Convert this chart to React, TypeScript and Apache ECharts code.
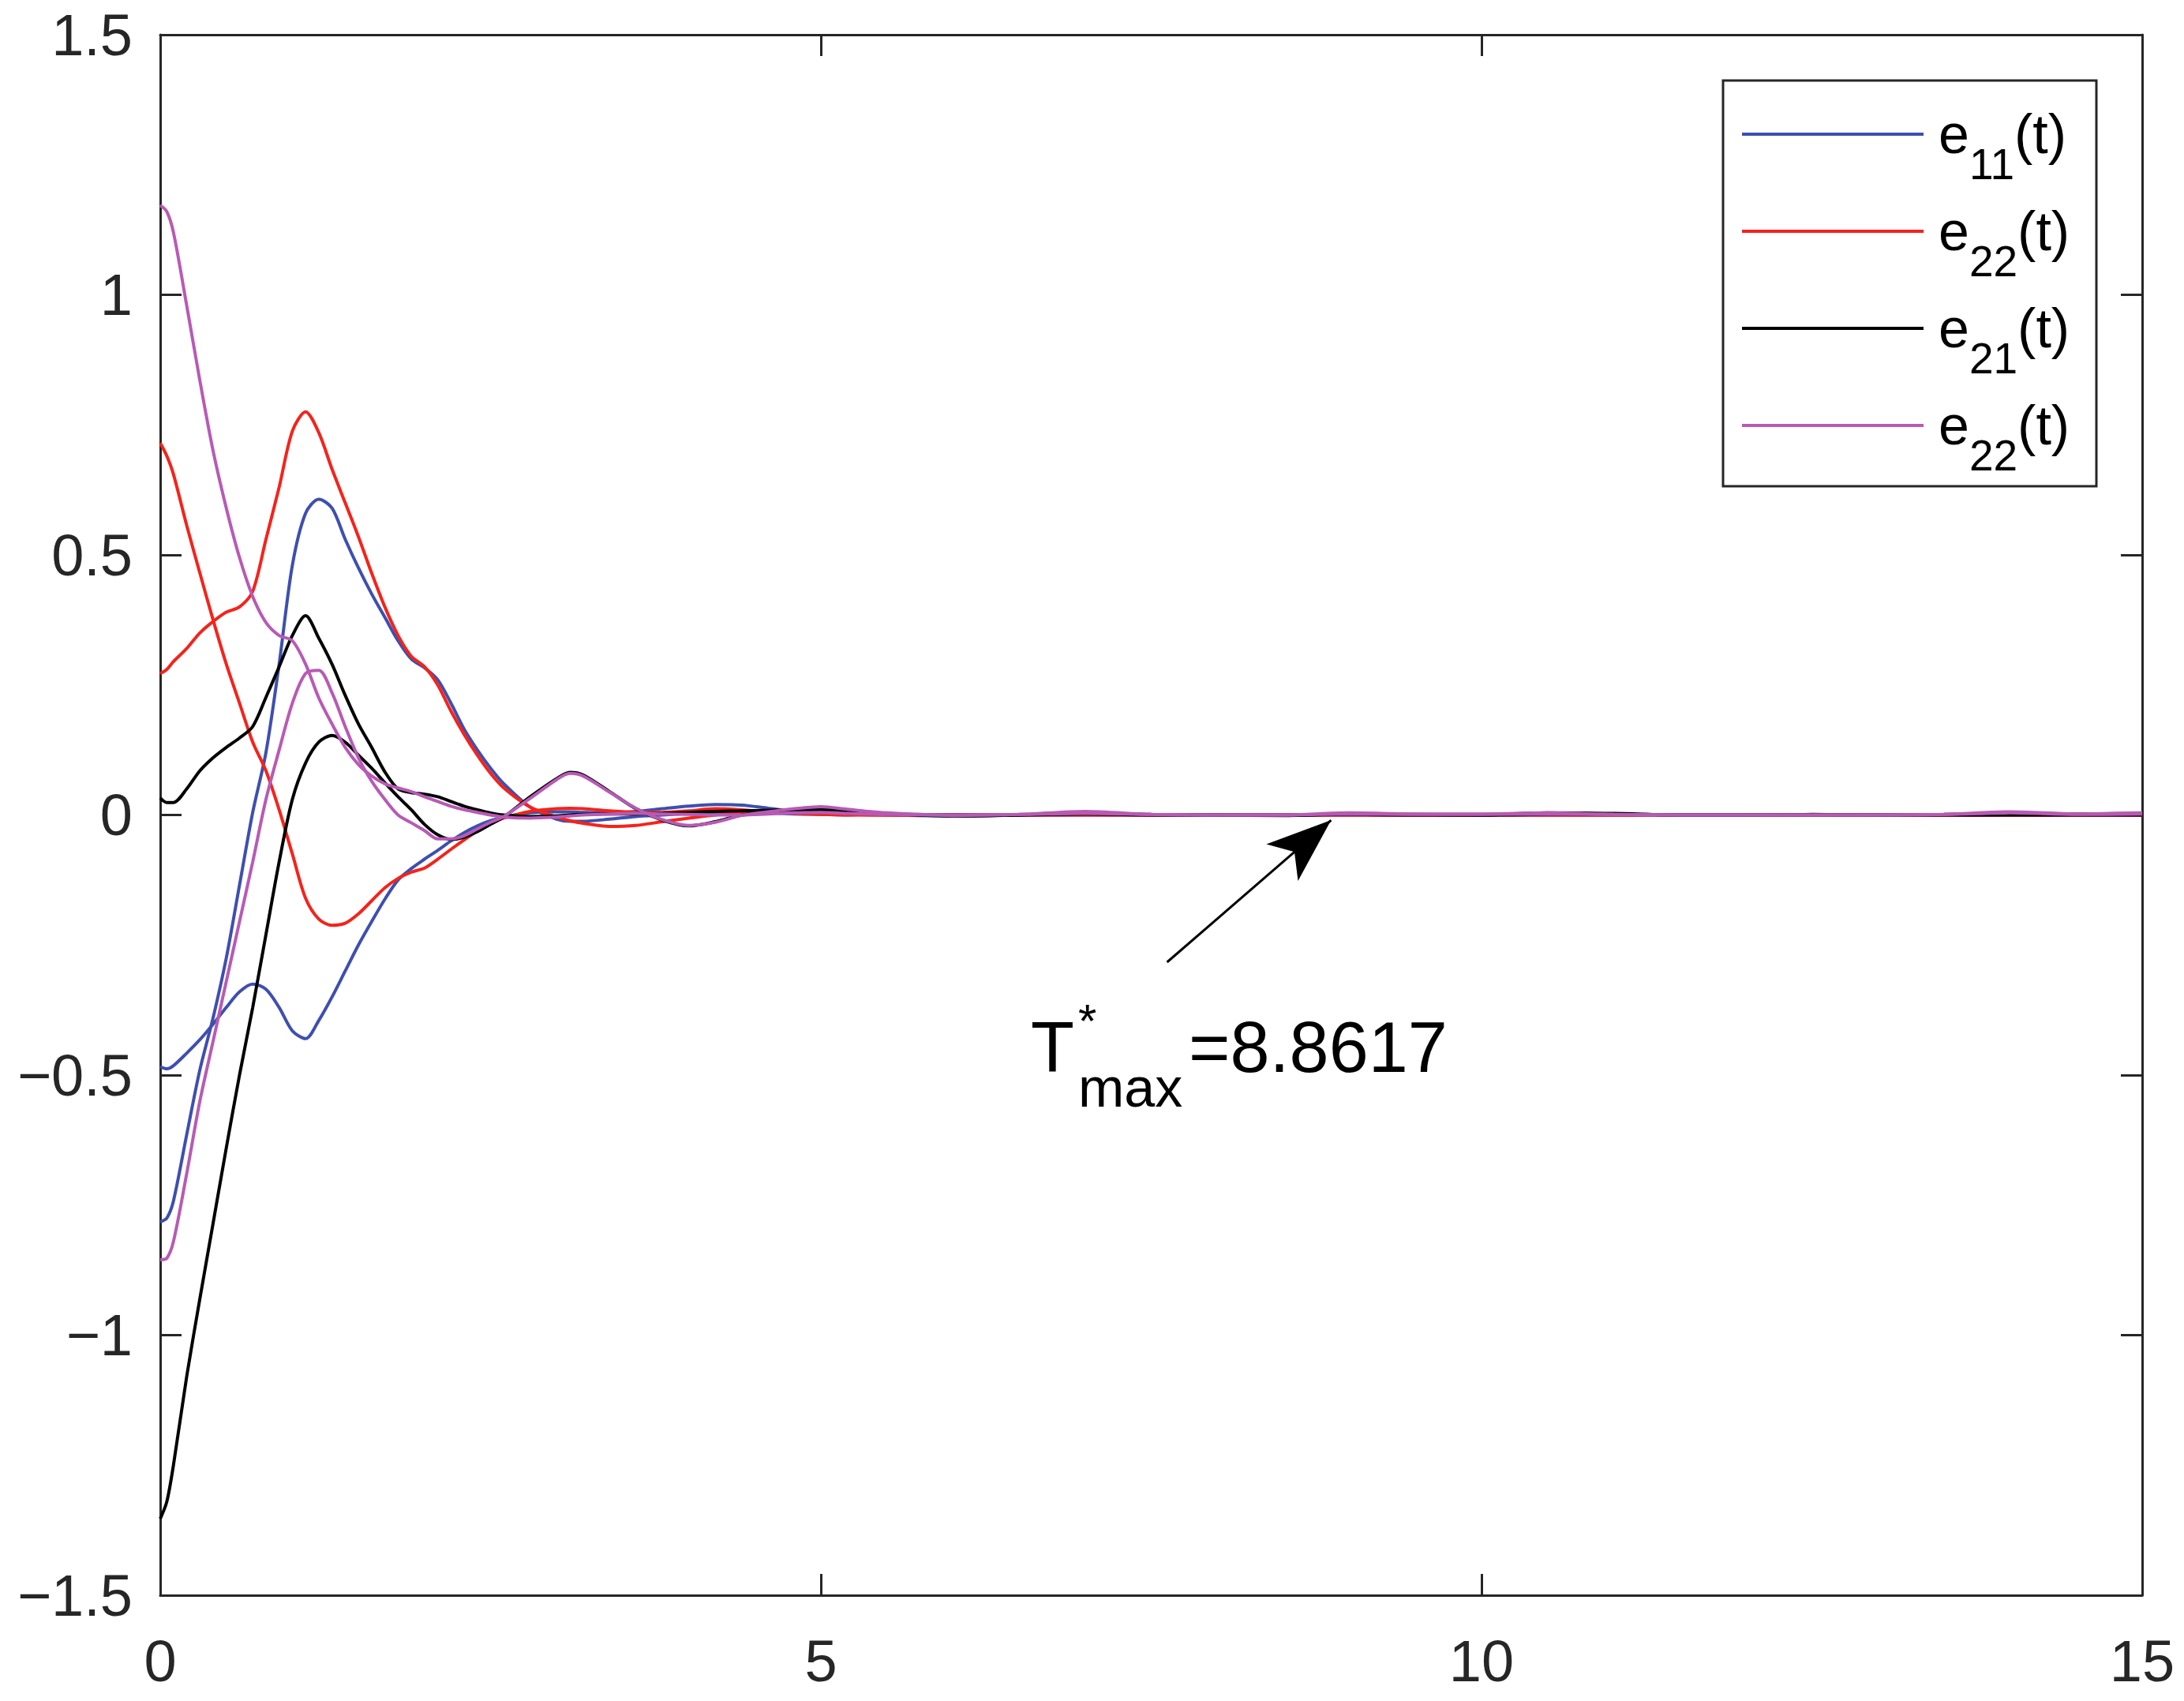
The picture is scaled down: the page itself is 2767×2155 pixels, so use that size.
import * as echarts from "echarts";
import { useEffect, useRef } from "react";

// sampling times (s)
const TIME = [
  0, 0.05, 0.1, 0.2, 0.3, 0.4, 0.5, 0.6, 0.7, 0.8, 0.9,
  1.0, 1.1, 1.2, 1.3, 1.4, 1.5, 1.6, 1.7, 1.8, 1.9,
  2.0, 2.1, 2.2, 2.3, 2.4, 2.5, 2.6, 2.8, 3.0, 3.1,
  3.2, 3.4, 3.6, 3.8, 4.0, 4.2, 4.4, 4.6, 4.8, 5.0,
  5.2, 5.5, 6, 6.5, 7, 7.5, 8, 8.5, 9, 9.5,
  10, 10.5, 11, 11.5, 12, 12.5, 13, 13.5, 14, 14.5, 15,
];

// blue, e11
const E11_A = [
  -0.484, -0.488, -0.482, -0.458, -0.432, -0.402, -0.37, -0.34, -0.325, -0.335, -0.37,
  -0.415, -0.43, -0.395, -0.35, -0.3, -0.25, -0.205, -0.162, -0.125, -0.103,
  -0.085, -0.068, -0.05, -0.034, -0.021, -0.011, -0.004, 0.004, 0.006, 0.006,
  0.005, 0.004, 0.007, 0.012, 0.017, 0.02, 0.019, 0.013, 0.007, 0.003,
  0.001, 0, -0.002, 0, 0.002, 0, 0, 0, 0.001, 0,
  0, 0.001, 0, 0, 0, 0, 0, 0, 0.001, 0, 0,
];
const E11_B = [
  -0.782, -0.775, -0.742, -0.615, -0.49, -0.39, -0.275, -0.135, 0.005, 0.12, 0.29,
  0.48, 0.58, 0.607, 0.59, 0.53, 0.475, 0.425, 0.38, 0.335, 0.3,
  0.283, 0.26, 0.215, 0.165, 0.125, 0.09, 0.06, 0.015, -0.008, -0.012,
  -0.012, -0.008, -0.003, 0, 0.003, 0.005, 0.005, 0.004, 0.002, 0.001,
  0, 0.002, 0, 0, 0, 0, 0, 0, 0, 0,
  0, 0, 0, 0, 0, 0, 0, 0, 0, 0, 0,
];

// red, e22
const E22_A = [
  0.272, 0.28, 0.295, 0.32, 0.35, 0.372, 0.39, 0.4, 0.43, 0.53, 0.63,
  0.738, 0.775, 0.735, 0.665, 0.6, 0.535, 0.465, 0.4, 0.345, 0.305,
  0.285, 0.25, 0.2, 0.155, 0.115, 0.08, 0.052, 0.015, -0.004, -0.011,
  -0.016, -0.022, -0.02, -0.013, -0.006, 0, 0.004, 0.006, 0.005, 0.003,
  0.001, 0, 0, 0, 0.001, 0, 0, 0, 0, 0,
  0, 0, 0, 0, 0, 0, 0, 0, 0, 0, 0,
];
const E22_B = [
  0.715, 0.69, 0.655, 0.557, 0.465, 0.375, 0.29, 0.215, 0.14, 0.085, 0.01,
  -0.075, -0.16, -0.2, -0.212, -0.208, -0.19, -0.165, -0.14, -0.122, -0.11,
  -0.102, -0.085, -0.066, -0.048, -0.031, -0.016, -0.006, 0.007, 0.012, 0.013,
  0.012, 0.008, 0.005, 0.005, 0.008, 0.012, 0.01, 0.006, 0.003, 0.001,
  0, 0, 0, 0, 0, 0, 0, 0, 0, 0,
  0, 0, 0, 0, 0, 0, 0, 0, 0, 0, 0,
];

// black, e21
const E21_A = [
  0.033, 0.024, 0.024, 0.05, 0.085, 0.11, 0.13, 0.148, 0.17, 0.226, 0.285,
  0.345, 0.383, 0.34, 0.29, 0.23, 0.175, 0.13, 0.083, 0.05, 0.043,
  0.04, 0.035, 0.026, 0.017, 0.01, 0.004, 0, -0.003, -0.002, 0,
  0.001, 0.002, 0.002, 0.003, 0.005, 0.007, 0.008, 0.009, 0.01, 0.009,
  0.006, 0.002, 0, 0, 0.002, 0, 0, 0, 0.001, 0,
  0, 0.001, 0.002, 0, 0, 0, 0, 0, 0, 0, 0,
];
const E21_B = [
  -1.353, -1.32, -1.25, -1.08, -0.93, -0.785, -0.64, -0.5, -0.37, -0.23, -0.09,
  0.03, 0.1, 0.14, 0.153, 0.14, 0.115, 0.09, 0.062, 0.035, 0.01,
  -0.018, -0.038, -0.047, -0.043, -0.032, -0.018, -0.004, 0.035, 0.07, 0.082,
  0.077, 0.045, 0.012, -0.01, -0.021, -0.013, 0, 0.006, 0.011, 0.014,
  0.01, 0.003, -0.002, 0, 0.004, 0.001, 0, -0.001, 0.002, 0.001,
  0, 0.004, 0.003, 0, 0, 0.001, 0, 0.001, 0.004, 0.002, 0.003,
];

// magenta, e22
const E22_C = [
  1.172, 1.16, 1.12, 0.98, 0.835, 0.7, 0.59, 0.495, 0.42, 0.37, 0.345,
  0.335, 0.29, 0.225, 0.175, 0.13, 0.097, 0.075, 0.06, 0.052, 0.045,
  0.035, 0.026, 0.017, 0.01, 0.005, 0, -0.004, -0.006, -0.004, -0.002,
  0, 0.002, 0.003, 0.002, 0.001, 0, 0, 0.002, 0.004, 0.005,
  0.003, 0.001, 0, 0.001, 0.003, 0.001, 0, 0, 0.002, 0.001,
  0.001, 0.002, 0.001, 0, 0, 0, 0, 0.001, 0.004, 0.001, 0.002,
];
const E22_D = [
  -0.855, -0.852, -0.82, -0.69, -0.55, -0.435, -0.32, -0.205, -0.09, 0.03, 0.125,
  0.215, 0.272, 0.278, 0.235, 0.17, 0.11, 0.065, 0.03, 0, -0.015,
  -0.03, -0.046, -0.046, -0.04, -0.027, -0.014, -0.003, 0.032, 0.068, 0.08,
  0.075, 0.044, 0.013, -0.009, -0.02, -0.014, -0.001, 0.006, 0.012, 0.016,
  0.011, 0.004, -0.001, 0.001, 0.007, 0.001, 0, 0, 0.004, 0.002,
  0.002, 0.004, 0.001, 0, 0, 0, 0, 0.001, 0.006, 0.002, 0.004,
];

const LEGEND_KEYS = ["e11", "e22r", "e21", "e22m"];
const LEGEND_SUBS: Record<string, string> = { e11: "11", e22r: "22", e21: "21", e22m: "22" };

const T_MAX = 8.8617;
const ARROW_TAIL = [7.62, -0.283];
const ARROW_TIP = [T_MAX, -0.01];

const BLUE = "#3e4fb0";
const RED = "#f5231b";
const BLACK = "#000000";
const MAGENTA = "#b85ab5";
const AXIS = "#262626";
const FONT = '"Liberation Sans", Arial, Helvetica, sans-serif';

const CURVES = [
  { name: "e11", color: BLUE, values: E11_A },
  { name: "e11", color: BLUE, values: E11_B },
  { name: "e22r", color: RED, values: E22_A },
  { name: "e22r", color: RED, values: E22_B },
  { name: "e21", color: BLACK, values: E21_A },
  { name: "e21", color: BLACK, values: E21_B },
  { name: "e22m", color: MAGENTA, values: E22_C },
  { name: "e22m", color: MAGENTA, values: E22_D },
];

const minus = (v: number) => (v < 0 ? "\u2212" + Math.abs(v) : String(v));

const axisCommon = {
  type: "value" as const,
  axisLine: { show: true, onZero: false, lineStyle: { color: AXIS, width: 3 } },
  axisTick: { show: true, inside: true, length: 27, lineStyle: { color: AXIS, width: 3 } },
  splitLine: { show: false },
};

export default function App() {
  const ref = useRef<HTMLDivElement>(null);

  useEffect(() => {
    document.body.style.margin = "0";
    const chart = echarts.init(ref.current!, null, { renderer: "svg" });
    const series: any[] = CURVES.map((c) => ({
      name: c.name,
      type: "line",
      data: TIME.map((t, i) => [t, c.values[i]]),
      color: c.color,
      showSymbol: false,
      symbol: "none",
      smooth: 0.3,
      lineStyle: { color: c.color, width: 4 },
      emphasis: { disabled: true },
    }));
    series[5].markLine = {
      silent: true,
      animation: false,
      label: { show: false },
      lineStyle: { color: "#000", width: 3, type: "solid" },
      emphasis: { disabled: true },
      data: [
        [
          { coord: ARROW_TAIL, symbol: "none" },
          { coord: ARROW_TIP, symbol: "arrow", symbolSize: [46, 82] },
        ],
      ],
    };

    chart.setOption({
      animation: false,
      backgroundColor: "#ffffff",
      grid: { left: 203, right: 53, top: 44, bottom: 134 },
      xAxis: [
        {
          ...axisCommon,
          position: "bottom",
          min: 0,
          max: 15,
          interval: 5,
          axisLabel: { fontSize: 74, color: AXIS, fontFamily: FONT, margin: 46 },
        },
        {
          ...axisCommon,
          position: "top",
          min: 0,
          max: 15,
          interval: 5,
          axisLabel: { show: false },
        },
      ],
      yAxis: [
        {
          ...axisCommon,
          position: "left",
          min: -1.5,
          max: 1.5,
          interval: 0.5,
          axisLabel: { fontSize: 74, color: AXIS, fontFamily: FONT, margin: 35, formatter: minus },
        },
        {
          ...axisCommon,
          position: "right",
          min: -1.5,
          max: 1.5,
          interval: 0.5,
          axisLabel: { show: false },
        },
      ],
      legend: {
        orient: "vertical",
        left: 2207,
        top: 135,
        padding: 0,
        itemGap: 23,
        itemWidth: 230,
        itemHeight: 4,
        icon: "rect",
        selectedMode: false,
        itemStyle: { borderWidth: 0 },
        data: LEGEND_KEYS,
        formatter: (name: string) => `{e|e}{s|${LEGEND_SUBS[name]}}{p|(t)}`,
        textStyle: {
          fontFamily: FONT,
          color: "#000",
          rich: {
            e: { fontSize: 70, lineHeight: 130, padding: [0, 0, 0, 14], fontFamily: FONT, color: "#000" },
            s: { fontSize: 55, lineHeight: 30, verticalAlign: "bottom", fontFamily: FONT, color: "#000" },
            p: { fontSize: 70, lineHeight: 130, fontFamily: FONT, color: "#000" },
          },
        },
      },
      graphic: [
        {
          type: "rect",
          z: 3,
          shape: { x: 2183, y: 102, width: 473, height: 514 },
          style: { fill: "#fff", stroke: AXIS, lineWidth: 3 },
        },
        {
          type: "text",
          x: 1306,
          y: 1327,
          style: { text: "T", fontSize: 90, fontFamily: FONT, fill: "#000", verticalAlign: "middle" },
        },
        {
          type: "text",
          x: 1366,
          y: 1293,
          style: { text: "*", fontSize: 60, fontFamily: FONT, fill: "#000", verticalAlign: "middle" },
        },
        {
          type: "text",
          x: 1366,
          y: 1378,
          style: { text: "max", fontSize: 70, fontFamily: FONT, fill: "#000", verticalAlign: "middle" },
        },
        {
          type: "text",
          x: 1506,
          y: 1327,
          style: { text: "=" + T_MAX, fontSize: 90, fontFamily: FONT, fill: "#000", verticalAlign: "middle" },
        },
      ],
      series,
    });
    return () => chart.dispose();
  }, []);

  return <div ref={ref} style={{ width: 2767, height: 2155 }} />;
}
